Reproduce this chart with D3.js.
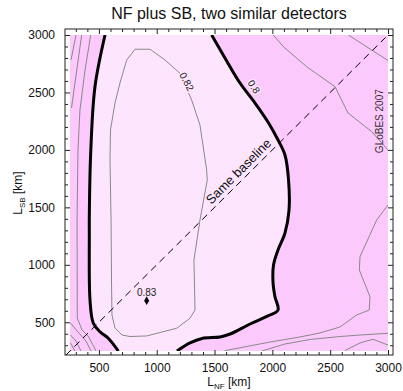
<!DOCTYPE html>
<html><head><meta charset="utf-8">
<script src="https://cdn.jsdelivr.net/npm/d3@7"></script>
<style>body{margin:0;background:#fff}svg{display:block;font-family:"Liberation Sans",Arial,Helvetica,sans-serif}</style>
</head><body><svg id="c" width="403" height="391"></svg>
<script>
// ---- data (L_NF [km], L_SB [km]) ----
const xTicks = [500, 1000, 1500, 2000, 2500, 3000];
const yTicks = [500, 1000, 1500, 2000, 2500, 3000];
const minorTicks = [300,400,600,700,800,900,1100,1200,1300,1400,1600,1700,1800,1900,2100,2200,2300,2400,2600,2700,2800,2900];
// thick 0.8 contour, left branch (top -> bottom)
const c080Left = [[553,3000],[466,2550],[429,1973],[417,1419],[417,1277],[423,694],[451,494],[509,418],[579,363],[668,250]];
// thick 0.8 contour, right branch (top -> bottom)
const c080Right = [[1475,3000],[1590,2800],[1720,2582],[1850,2408],[1962,2243],[2049,2086],[2109,1956],[2140,1738],[2144,1477],[2109,1277],[2049,1129],[2010,998],[2006,842],[2023,720],[2049,607],[1962,555],[1807,485],[1634,398],[1547,372],[1392,359],[1288,320],[1175,250]];
// 0.82 contour (closed)
const c082 = [[812,2876],[942,2876],[1072,2782],[1201,2667],[1302,2434],[1374,2217],[1432,1825],[1437,1738],[1374,1390],[1322,1042],[1331,607],[1288,535],[1173,448],[913,381],[769,376],[700,389],[639,450],[613,563],[609,868],[605,1390],[596,1912],[600,2173],[639,2408],[682,2582],[740,2782],[812,2876]];
// other thin contours
const thinLines = [
  [[259,2783],[302,3000]],
  [[263,2365],[351,3000]],
  [[429,3000],[380,2695],[336,2347],[319,1999],[311,1390],[313,537],[354,433],[406,381],[449,302],[475,250]],
  [[254,494],[319,415],[388,337],[432,250]],
  [[254,389],[302,337],[345,250]],
  [[254,320],[293,250]],
  [[2008,3000],[2095,2898],[2297,2724],[2542,2550],[2654,2321],[2859,2159],[3000,1999]],
  [[2657,3000],[3000,2778]],
  [[3000,1521],[2902,1390],[2758,1071],[2752,955],[2844,723],[2838,607],[2729,563],[2585,459],[2412,407],[2239,372],[1980,328],[1590,253]],
  [[3000,404],[2758,389],[2585,376],[2326,350],[2109,311],[1910,250]],
  [[3000,302],[2870,352],[2758,320],[2628,254]]
];
const sameBaseline = [[215,215],[2980,2980]];
const optimum = {nf: 913, sb: 688, label: "0.83"};
const contourLabels = [{nf:1259, sb:2594, text:"0.82", rot:62}, {nf:1841, sb:2550, text:"0.8", rot:58}];

// ---- scales ----
const x = d3.scaleLinear().domain([250, 3000]).range([70, 388]);
const y = d3.scaleLinear().domain([250, 3000]).range([351, 35]);
const svg = d3.select("#c");
const F = {l:65, r:393, t:29, b:355};

svg.append("defs").append("clipPath").attr("id","clip").append("rect")
  .attr("x", x(250)).attr("y", y(3000)).attr("width", x(3000)-x(250)).attr("height", y(250)-y(3000));

const dark = "#fcc9fc", light = "#fde6fd";
const g = svg.append("g").attr("clip-path","url(#clip)");
g.append("rect").attr("x", x(250)).attr("y", y(3000)).attr("width", x(3000)-x(250)).attr("height", y(250)-y(3000)).attr("fill", dark);

const lineC = d3.line().x(d=>x(d[0])).y(d=>y(d[1])).curve(d3.curveCatmullRom);
const lineL = d3.line().x(d=>x(d[0])).y(d=>y(d[1]));
const fillPath = lineC(c080Left) + lineC(c080Right.slice().reverse()).replace(/^M/, "L") + "Z";
g.append("path").attr("d", fillPath).attr("fill", light);

thinLines.forEach(l => g.append("path").attr("d", lineL(l)).attr("fill","none").attr("stroke","#888").attr("stroke-width",1));
g.append("path").attr("d", lineL(c082)).attr("fill","none").attr("stroke","#888").attr("stroke-width",1);
g.append("path").attr("d", lineC(c080Left)).attr("fill","none").attr("stroke","#000").attr("stroke-width",3);
g.append("path").attr("d", lineC(c080Right)).attr("fill","none").attr("stroke","#000").attr("stroke-width",3);

// same-baseline dashed line
svg.append("path").attr("d", lineL(sameBaseline)).attr("fill","none").attr("stroke","#000").attr("stroke-width",1).attr("stroke-dasharray","7,5");

// contour labels
contourLabels.forEach(c => {
  svg.append("text").attr("transform", `translate(${x(c.nf)},${y(c.sb)}) rotate(${c.rot})`)
    .attr("text-anchor","middle").attr("dy","0.35em").attr("font-size",10).attr("fill","#222")
    .attr("stroke", light).attr("stroke-width",3).attr("paint-order","stroke").text(c.text);
});
// optimum point
svg.append("path").attr("d", d3.symbol(d3.symbolDiamond, 22)()).attr("transform", `translate(${x(optimum.nf)},${y(optimum.sb)})`).attr("fill","#000");
svg.append("text").attr("x", x(optimum.nf)).attr("y", y(optimum.sb)-5).attr("text-anchor","middle").attr("font-size",10).attr("fill","#222").text(optimum.label);

// same baseline label
const sbPos = 1760;
svg.append("text").attr("transform", `translate(${x(sbPos)-3},${y(sbPos)-3}) rotate(-45)`).attr("text-anchor","middle").attr("font-size",13).attr("fill","#111").text("Same baseline");
// GLoBES
svg.append("text").attr("transform", `translate(${x(2930)},${y(2250)}) rotate(-90)`).attr("text-anchor","middle").attr("dy","0.35em").attr("font-size",10).attr("fill","#333").text("GLoBES 2007");

// frame + ticks
const fmt = d3.format("d");
const axB = svg.append("g").attr("transform",`translate(0,${F.b})`);
axB.call(d3.axisBottom(x).tickValues(xTicks).tickSizeInner(-5).tickSizeOuter(0).tickPadding(8).tickFormat(fmt));
axB.append("g").call(d3.axisBottom(x).tickValues(minorTicks).tickSize(-3).tickFormat(""));
const axT = svg.append("g").attr("transform",`translate(0,${F.t})`);
axT.call(d3.axisTop(x).tickValues(xTicks).tickSizeInner(-5).tickSizeOuter(0).tickFormat(""));
axT.append("g").call(d3.axisTop(x).tickValues(minorTicks).tickSize(-3).tickFormat(""));
const axL = svg.append("g").attr("transform",`translate(${F.l},0)`);
axL.call(d3.axisLeft(y).tickValues(yTicks).tickSizeInner(-5).tickSizeOuter(0).tickPadding(10).tickFormat(fmt));
axL.append("g").call(d3.axisLeft(y).tickValues(minorTicks).tickSize(-3).tickFormat(""));
const axR = svg.append("g").attr("transform",`translate(${F.r},0)`);
axR.call(d3.axisRight(y).tickValues(yTicks).tickSizeInner(-5).tickSizeOuter(0).tickFormat(""));
axR.append("g").call(d3.axisRight(y).tickValues(minorTicks).tickSize(-3).tickFormat(""));
svg.selectAll(".domain").remove();
svg.selectAll(".tick text").attr("font-size",12).attr("font-family","Liberation Sans, Arial, sans-serif").attr("fill","#111");
svg.selectAll(".tick line").attr("stroke","#222");
svg.append("rect").attr("x",F.l).attr("y",F.t).attr("width",F.r-F.l).attr("height",F.b-F.t).attr("fill","none").attr("stroke","#222").attr("stroke-width",1);

// titles
svg.append("text").attr("x",(F.l+F.r)/2).attr("y",18.5).attr("text-anchor","middle").attr("font-size",16).attr("fill","#111").text("NF plus SB, two similar detectors");
const xl = svg.append("text").attr("x",229).attr("y",386).attr("text-anchor","middle").attr("font-size",12).attr("fill","#111");
xl.append("tspan").text("L");
xl.append("tspan").attr("font-size",8).attr("dy",3).text("NF");
xl.append("tspan").attr("dy",-3).text("  [km]");
const yl = svg.append("text").attr("transform","translate(22,193) rotate(-90)").attr("text-anchor","middle").attr("font-size",12).attr("fill","#111");
yl.append("tspan").text("L");
yl.append("tspan").attr("font-size",8).attr("dy",3).text("SB");
yl.append("tspan").attr("dy",-3).text(" [km]");
</script></body></html>
